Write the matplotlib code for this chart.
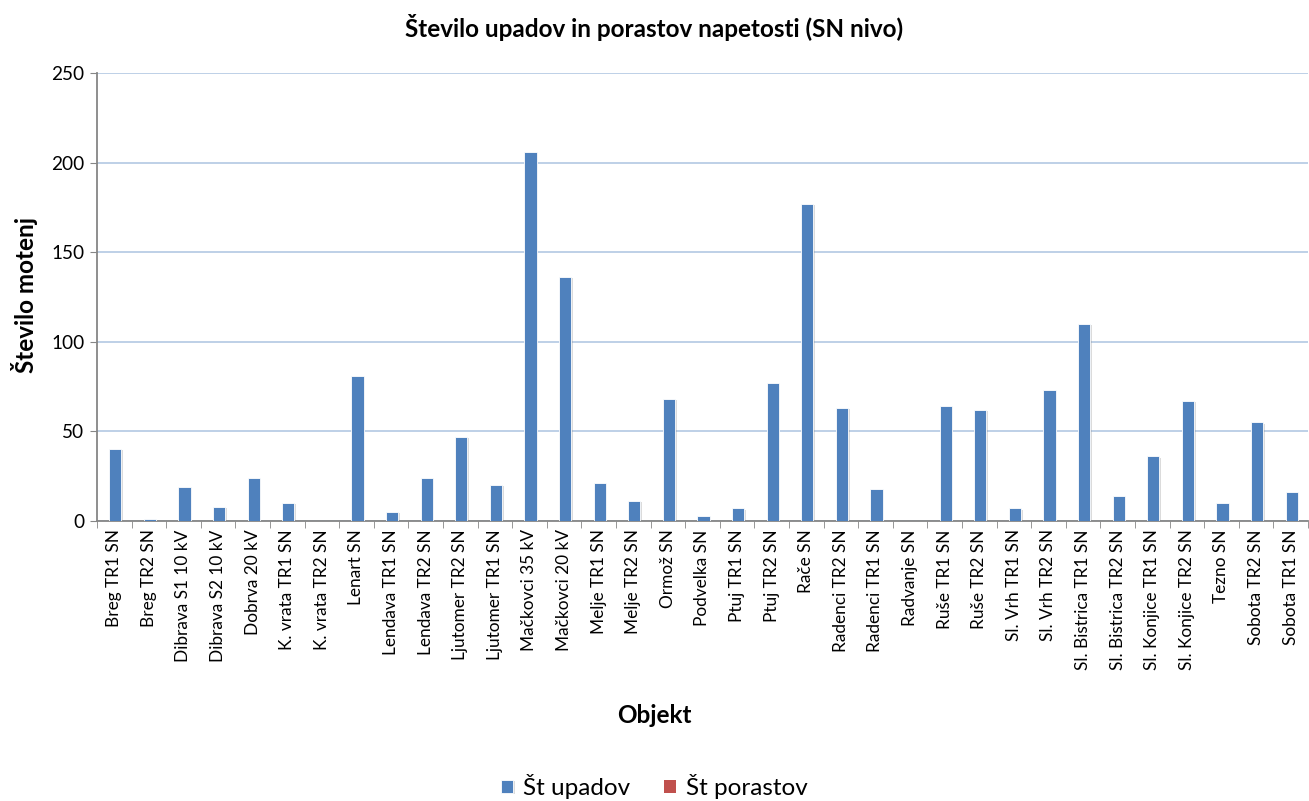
import matplotlib
matplotlib.use("Agg")
import matplotlib.pyplot as plt
import matplotlib.patheffects as pe
import numpy as np

plt.rcParams['font.family'] = ['Lato', 'DejaVu Sans']

objekti = ['Breg TR1 SN', 'Breg TR2 SN', 'Dibrava S1 10 kV', 'Dibrava S2 10 kV',
           'Dobrva 20 kV', 'K. vrata TR1 SN', 'K. vrata TR2 SN', 'Lenart SN',
           'Lendava TR1 SN', 'Lendava TR2 SN', 'Ljutomer TR2 SN', 'Ljutomer TR1 SN',
           'Mačkovci 35 kV', 'Mačkovci 20 kV', 'Melje TR1 SN', 'Melje TR2 SN',
           'Ormož SN', 'Podvelka SN', 'Ptuj TR1 SN', 'Ptuj TR2 SN', 'Rače SN',
           'Radenci TR2 SN', 'Radenci TR1 SN', 'Radvanje SN', 'Ruše TR1 SN',
           'Ruše TR2 SN', 'Sl. Vrh TR1 SN', 'Sl. Vrh TR2 SN', 'Sl. Bistrica TR1 SN',
           'Sl. Bistrica TR2 SN', 'Sl. Konjice TR1 SN', 'Sl. Konjice TR2 SN',
           'Tezno SN', 'Sobota TR2 SN', 'Sobota TR1 SN']
upadi = [40, 1, 19, 8, 24, 10, 0, 81, 5, 24, 47, 20, 206, 136, 21, 11, 68, 3, 7,
         77, 177, 63, 18, 0, 64, 62, 7, 73, 110, 14, 36, 67, 10, 55, 16]
porasti = [0] * len(objekti)

blue = '#4f81bd'
red = '#c0504d'

fig = plt.figure(figsize=(13.09, 8.01), dpi=100)
ax = fig.add_axes([0.0741, 0.3496, 0.9251, 0.5593])

x = np.arange(len(objekti))
w = 0.35
# soft grey halo around the columns
shadow = [pe.SimplePatchShadow(offset=(1.2, -0.8), shadow_rgbFace='#8a8a8a', alpha=0.3),
          pe.Normal()]
b1 = ax.bar(x + 0.03, upadi, w, color=blue, edgecolor='white', linewidth=0.6,
            label='Št upadov', zorder=3, path_effects=shadow)
b2 = ax.bar(x + 0.03 + w, porasti, w, color=red, label='Št porastov', zorder=3)

ax.set_xlim(-0.5, len(objekti) - 0.5)
ax.set_ylim(0, 250)
ax.set_yticks(np.arange(0, 251, 50))
ax.yaxis.grid(True, color='#b9cde5', linewidth=1.3, zorder=0)
ax.set_axisbelow(True)

ax.set_xticks(x)
ax.set_xticklabels(objekti, rotation=90, fontsize=12.4)
ax.set_xticks(np.arange(-0.5, len(objekti)), minor=True)
ax.tick_params(axis='x', which='major', length=0, pad=6)
ax.tick_params(axis='x', which='minor', length=5, color='#868686', direction='out')
ax.tick_params(axis='y', labelsize=13.7, length=5, color='#868686', pad=4)

for s in ['top', 'right']:
    ax.spines[s].set_visible(False)
for s in ['left', 'bottom']:
    ax.spines[s].set_color('#868686')
    ax.spines[s].set_linewidth(1.3)

fig.text(0.5, 0.966, 'Število upadov in porastov napetosti (SN nivo)',
         ha='center', va='center', fontsize=17.5, fontweight='bold')
fig.text(0.019, 0.632, 'Število motenj', rotation=90, ha='center', va='center',
         fontsize=17.5, fontweight='bold')
fig.text(0.5, 0.107, 'Objekt', ha='center', va='center', fontsize=17.5, fontweight='bold')

fig.legend(handles=[b1, b2], loc='center', bbox_to_anchor=(0.5, 0.018), ncol=2,
           frameon=False, fontsize=17.5, handlelength=0.5, handleheight=0.5,
           handletextpad=0.4, columnspacing=1.4)

fig.savefig('out.png', dpi=100)
